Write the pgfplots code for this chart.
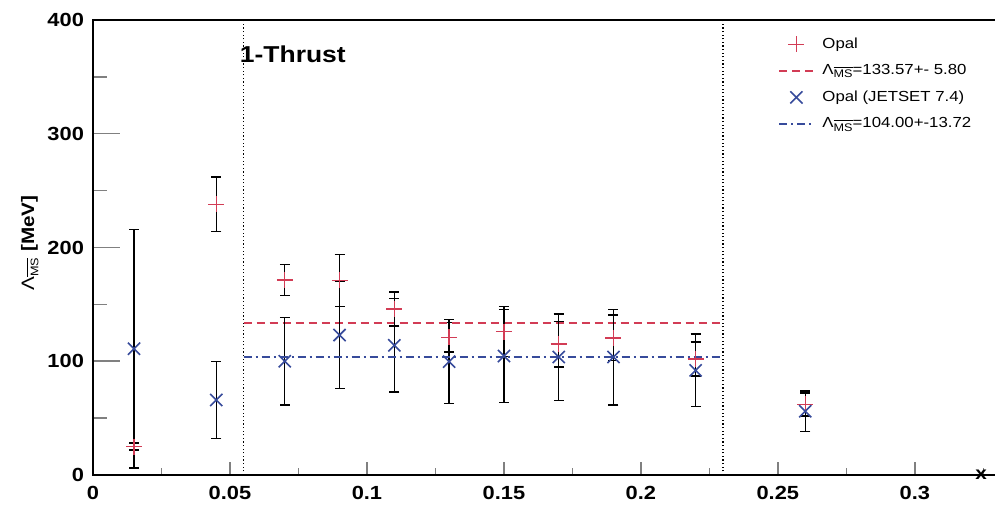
\documentclass[border=0pt]{standalone}
\usepackage{fontspec}
\setmainfont{Liberation Sans}[FakeStretch=1.15]
\usepackage{pgfplots}
\pgfplotsset{compat=1.18}
\definecolor{opalred}{RGB}{210,60,85}
\definecolor{opalblue}{RGB}{55,75,155}
\newcommand\LMS{Λ\raisebox{-0.45ex}{\fontsize{5.5}{6}\selectfont$\overline{\hbox{MS}}$}}
\pgfplotstableread{
x y e
0.015 25 3
0.045 238 24
0.07 171.5 13.5
0.09 171 23
0.11 146 15
0.13 121 13
0.15 126 22
0.17 115 20
0.19 120.5 20
0.22 102 15
0.26 62 10
}\opaltab
\pgfplotstableread{
x y e
0.015 111 105
0.045 66 34
0.07 100 38.5
0.09 123 47
0.11 114 41
0.13 99.6 37
0.15 104.6 41
0.17 103.7 38
0.19 103.7 42
0.22 92 32
0.26 56 18
}\jetsettab
\begin{document}
\begin{tikzpicture}
\begin{axis}[
  scale only axis, width=452pt, height=227.5pt,
  xmin=0, xmax=0.33, ymin=0, ymax=400,
  axis line style={line width=0.75pt},
  tick pos=left, tick align=inside,
  xtick={0,0.05,0.1,0.15,0.2,0.25,0.3},
  xticklabels={0,0.05,0.1,0.15,0.2,0.25,0.3},
  minor xtick={0.025,0.075,0.125,0.175,0.225,0.275,0.325},
  ytick={0,100,200,300,400},
  yticklabels={0,100,200,300,400},
  minor ytick={50,150,250,350},
  x tick style={line width=0.75pt,/pgfplots/major tick length=6.5pt,/pgfplots/minor tick length=3.5pt},
  y tick style={line width=0.75pt,/pgfplots/major tick length=13.5pt,/pgfplots/minor tick length=7pt},
  ticklabel style={font=\fontsize{9.5}{11}\selectfont\bfseries},
  /pgf/number format/assume math mode=true,
  xticklabel style={yshift=-2pt},
  yticklabel style={xshift=-1pt},
  ylabel={\LMS{} \textbf{[MeV]}},
  ylabel style={at={(axis description cs:-0.07,0.51)}, anchor=center, font=\fontsize{9}{11}\selectfont},
  xlabel={x},
  xlabel style={at={(rel axis cs:1,0)}, anchor=east, xshift=-1.5pt, yshift=0pt, font=\fontsize{9}{11}\selectfont\bfseries},
  legend style={at={(rel axis cs:0.751,0.98)}, anchor=north west, draw=none, fill=none,
    font=\fontsize{7.3}{9}\selectfont, row sep=2.6pt,
    nodes={inner xsep=4pt}},
  legend cell align=left,
  clip=false,
]
\addplot[only marks, mark=+, mark size=4pt, opalred, mark options={line width=0.7pt},
  error bars/.cd, y dir=both, y explicit,
  error bar style={black, line width=0.7pt},
  error mark options={rotate=90, black, mark size=2.5pt, line width=0.7pt}]
  table[x=x, y=y, y error=e] {\opaltab};
\addlegendentry{Opal}
\addplot[opalred, line width=1pt, dash pattern=on 4pt off 2.5pt] coordinates {(0.055,133.57) (0.23,133.57)};
\addlegendentry{\LMS=133.57+- 5.80}
\addplot[only marks, mark=x, mark size=4.3pt, opalblue, mark options={line width=0.8pt},
  error bars/.cd, y dir=both, y explicit,
  error bar style={black, line width=0.7pt},
  error mark options={rotate=90, black, mark size=2.5pt, line width=0.7pt}]
  table[x=x, y=y, y error=e] {\jetsettab};
\addlegendentry{Opal (JETSET 7.4)}
\addplot[opalblue, line width=1pt, dash pattern=on 4pt off 2pt on 1pt off 2pt] coordinates {(0.055,104.0) (0.23,104.0)};
\addlegendentry{\LMS=104.00+-13.72}
\addplot[forget plot, black, line width=0.6pt, dash pattern=on 0.6pt off 1.2pt] coordinates {(0.055,0) (0.055,400)};
\addplot[forget plot, black, line width=0.6pt, dash pattern=on 0.6pt off 1.2pt] coordinates {(0.23,0) (0.23,400)};
\node[anchor=west, font=\fontsize{11.5}{13}\selectfont\bfseries, inner sep=0pt] at (axis cs:0.0535,370) {1-Thrust};
\end{axis}
\pgfresetboundingbox
\useasboundingbox (-46.5pt,-15.5pt) rectangle (451pt,237.5pt);
\end{tikzpicture}
\end{document}
